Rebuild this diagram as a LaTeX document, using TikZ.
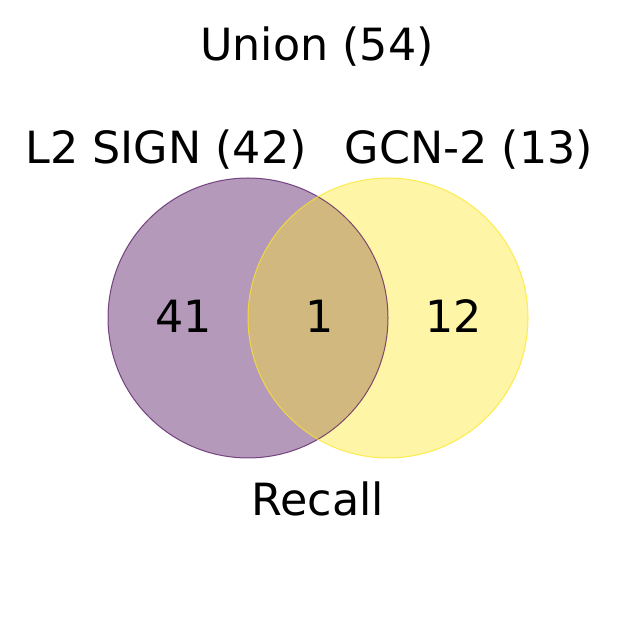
\documentclass[tikz,border=0pt]{standalone}
\usepackage{fontspec}
\setmainfont{DejaVu Sans}
\definecolor{vpurple}{HTML}{440154}
\definecolor{vyellow}{HTML}{FDE725}
\begin{document}
\begin{tikzpicture}[x=1pt,y=1pt,
  lbl/.style={font=\fontsize{44.4}{48}\selectfont, inner sep=0pt, anchor=base, text=black}]
\useasboundingbox (0,0) rectangle (636,636);
\fill[white] (0,0) rectangle (636,636);
\fill[vpurple, opacity=0.4] (248,318) circle (140);
\fill[vyellow, opacity=0.4] (388,318) circle (140);
\draw[vpurple, draw opacity=0.65, line width=1pt] (248,318) circle (140);
\draw[vyellow, draw opacity=0.75, line width=1pt] (388,318) circle (140);
\node[lbl] (union) at (317,575) {Union (54)};
\node[lbl] (left) at (166,472) {L2 SIGN (42)};
\node[lbl] (right) at (469,472) {GCN-2 (13)};
\node[lbl] (a) at (184,303) {41};
\node[lbl] (b) at (320,303) {1};
\node[lbl] (c) at (454,303) {12};
\node[lbl] (recall) at (318,120) {Recall};
\end{tikzpicture}
\end{document}
